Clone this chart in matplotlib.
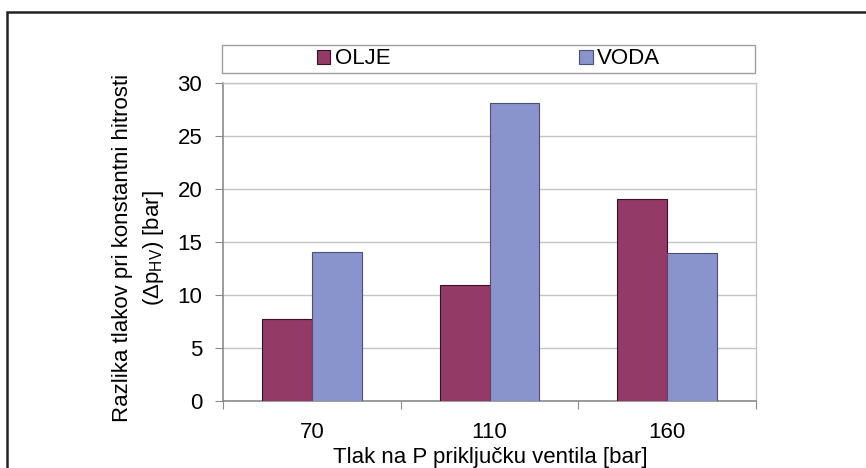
import matplotlib
matplotlib.use("Agg")
import matplotlib.pyplot as plt
import numpy as np
from matplotlib.patches import Rectangle

plt.rcParams["font.family"] = ["Liberation Sans", "DejaVu Sans"]

pressures = ["70", "110", "160"]
oil = [7.7, 10.9, 19.1]
water = [14.1, 28.1, 14.0]
series_names = ["OLJE", "VODA"]

OIL_COLOR = "#943a66"
WATER_COLOR = "#8a94cc"
GRID_COLOR = "#c4c4c4"
AXIS_COLOR = "#8a8a8a"
FONT_SIZE = 16

W, H = 866, 468
fig = plt.figure(figsize=(W / 100, H / 100), dpi=100)

# outer frame, open to the right and bottom
fig.patches.append(Rectangle((7 / W, -0.1), 1.2, 1 - 12 / H + 0.1,
                             transform=fig.transFigure, fill=False,
                             edgecolor="#222222", linewidth=1.8))

ax = fig.add_axes([223 / W, 1 - 401 / H, (756 - 223) / W, (401 - 83) / H])

x = np.arange(len(pressures))
width = 0.28
ax.bar(x - width / 2, oil, width, color=OIL_COLOR, edgecolor="#3a1028",
       linewidth=0.8, label=series_names[0], zorder=3)
ax.bar(x + width / 2, water, width, color=WATER_COLOR, edgecolor="#4a4f78",
       linewidth=0.8, label=series_names[1], zorder=3)

ax.set_xlim(-0.5, len(pressures) - 0.5)
ax.set_ylim(0, 30)
ax.set_yticks(np.arange(0, 31, 5))
ax.yaxis.grid(True, color=GRID_COLOR, linewidth=1.0, zorder=0)

# category boundaries carry the tick marks, labels sit at the centres
ax.set_xticks(np.arange(-0.5, len(pressures)))
ax.set_xticklabels([])
ax.set_xticks(x, minor=True)
ax.set_xticklabels(pressures, minor=True)
ax.tick_params(axis="x", which="major", length=6, color=AXIS_COLOR, direction="out")
ax.tick_params(axis="x", which="minor", length=0, pad=15, labelsize=FONT_SIZE)
ax.tick_params(axis="y", length=6, color=AXIS_COLOR, pad=9, labelsize=FONT_SIZE)

for side in ("left", "bottom"):
    ax.spines[side].set_color(AXIS_COLOR)
    ax.spines[side].set_linewidth(1.2)
for side in ("top", "right"):
    ax.spines[side].set_color(GRID_COLOR)
    ax.spines[side].set_linewidth(1.0)

# legend box above the plot area, one entry centred in each half
ax.add_patch(Rectangle((-0.002, (401 - 73) / 318), 1.0, 28 / 318,
                       transform=ax.transAxes, fill=False, edgecolor="#a0a0a0",
                       linewidth=1.0, clip_on=False))
ax.legend(loc="center left", bbox_to_anchor=((317 - 223) / 533, (401 - 59) / 318),
          ncol=2, frameon=False, fontsize=FONT_SIZE, handlelength=0.6,
          handleheight=0.6, handletextpad=0.2, columnspacing=8.5,
          borderpad=0, borderaxespad=0)

fig.text(139 / W, 1 - 248 / H,
         "Razlika tlakov pri konstantni hitrosti\n(Δp$_{\\mathregular{HV}}$) [bar]",
         rotation=90, ha="center", va="center", fontsize=FONT_SIZE,
         linespacing=1.45, multialignment="center")
fig.text(490 / W, 1 - 463 / H, "Tlak na P priključku ventila [bar]",
         ha="center", va="baseline", fontsize=FONT_SIZE)

fig.savefig("out.png", dpi=100)
